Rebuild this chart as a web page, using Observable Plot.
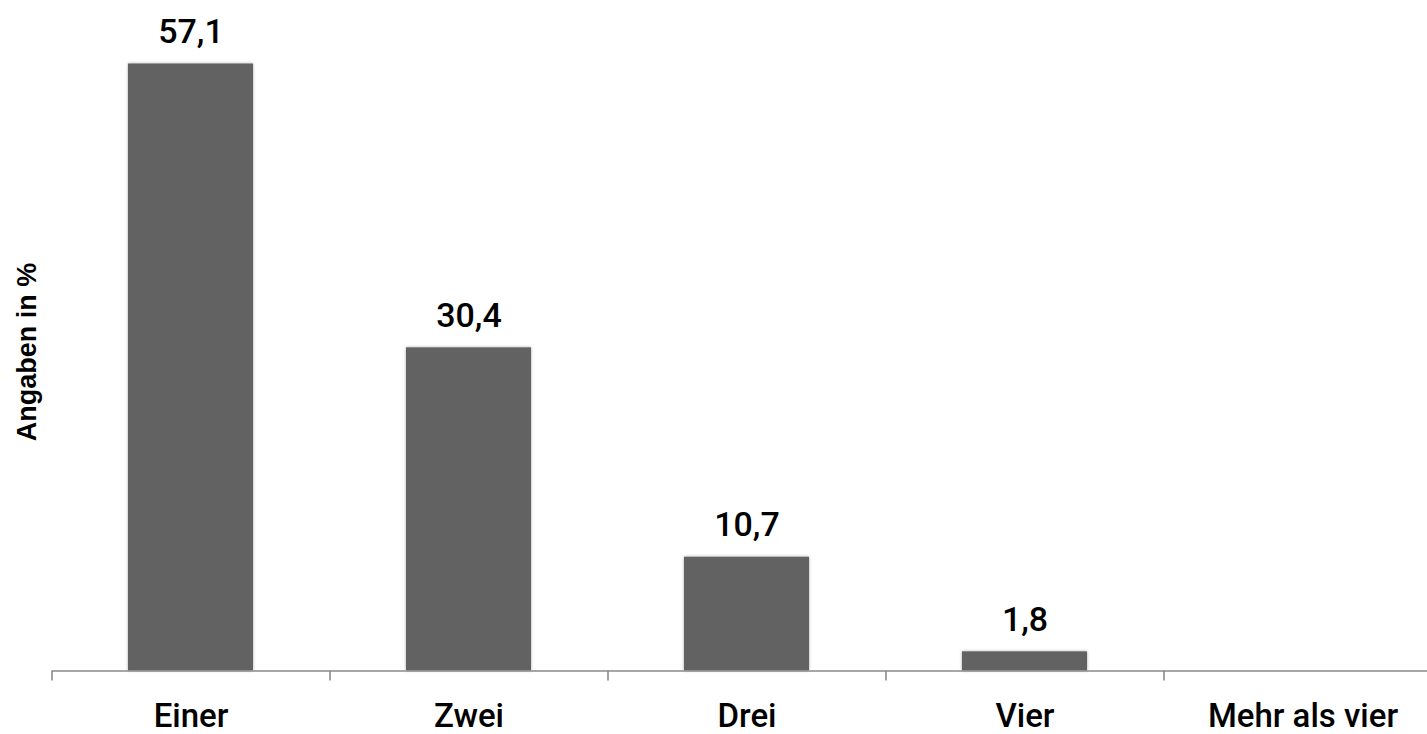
<!DOCTYPE html>
<html>
<head>
<meta charset="utf-8">
<script src="https://cdn.jsdelivr.net/npm/d3@7"></script>
<script src="https://cdn.jsdelivr.net/npm/@observablehq/plot@0.6"></script>
<style>
  html, body { margin: 0; padding: 0; background: #fff; }
  #chart { width: 1427px; height: 734px; overflow: hidden; }
</style>
</head>
<body>
<div id="chart"></div>
<script>
const categories = ["Einer", "Zwei", "Drei", "Vier", "Mehr als vier"];
const values = [57.1, 30.4, 10.7, 1.8, 0];
const yLabel = "Angaben in %";

const data = categories.map((c, i) => ({cat: c, value: values[i]}));

const W = 1427, H = 734;
const baseline = 670.5, yTopPx = 32.7, yMax = 60;
const xStart = 52, xEnd = 1442;
const step = (xEnd - xStart) / categories.length;
const pxPerUnit = (baseline - yTopPx) / yMax;
const tickLen = 10;
const fmt = d => d.toLocaleString("de-DE", {minimumFractionDigits: 1, maximumFractionDigits: 1});

const plot = Plot.plot({
  width: W,
  height: H,
  marginLeft: xStart,
  marginRight: 0,
  marginTop: yTopPx,
  marginBottom: H - baseline,
  style: {fontFamily: "Roboto, 'Liberation Sans', sans-serif", background: "#fff", color: "#000"},
  x: {domain: categories, range: [xStart, xEnd], paddingInner: 0.55, paddingOuter: 0.275},
  y: {domain: [0, yMax], axis: null},
  marks: [
    Plot.barY(data.filter(d => d.value > 0), {x: "cat", y: "value", fill: "#626262"}),
    Plot.ruleY([0], {stroke: "#8a8a8a", strokeWidth: 1.6}),
    Plot.ruleX(categories, {x: d => d, dx: -step / 2, y1: 0, y2: -tickLen / pxPerUnit, stroke: "#8a8a8a", strokeWidth: 1.6, clip: false}),
    Plot.text(data.filter(d => d.value > 0), {x: "cat", y: "value", text: d => fmt(d.value), dy: -21, lineAnchor: "bottom", fontSize: 34, fontWeight: 500, fill: "#000"}),
    Plot.axisX({tickSize: 0, tickPadding: 33, fontSize: 33, fontWeight: 500, label: null, fill: "#000"}),
    Plot.text([yLabel], {frameAnchor: "left", dx: -25, rotate: -90, textAnchor: "middle", text: d => d, fontSize: 27, fontWeight: "bold", fontFamily: "'Liberation Sans', Arial, sans-serif", fill: "#000"})
  ]
});

d3.select(plot).selectAll("g[aria-label='bar'] rect").style("filter", "drop-shadow(0 0 1.5px rgba(0,0,0,0.35))");
document.getElementById("chart").appendChild(plot);
</script>
</body>
</html>
